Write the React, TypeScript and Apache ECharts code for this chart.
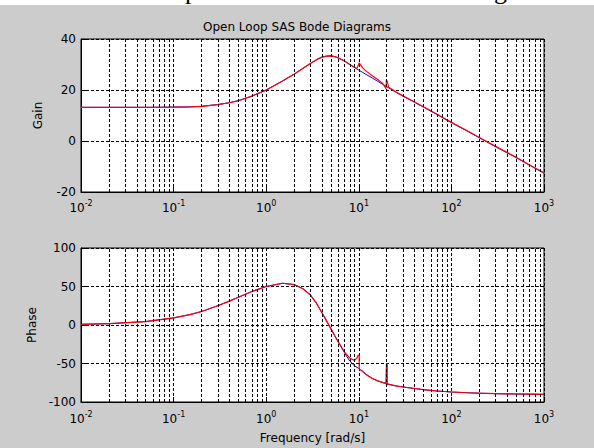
import React, { useEffect, useRef } from "react";
import * as echarts from "echarts";

const blueFreq = [0.01, 0.02, 0.05, 0.1, 0.15, 0.2, 0.3, 0.4, 0.5, 0.7, 1, 1.5, 2, 2.5, 3, 3.5, 4, 4.5, 5, 5.5, 6, 7, 8, 9, 10, 11, 12, 14, 16, 18, 20, 23, 25, 30, 40, 50, 70, 100, 150, 200, 300, 500, 700, 1000];
const blueGain = [13.2, 13.2, 13.2, 13.3, 13.4, 13.6, 14.3, 15.0, 15.8, 17.6, 20.0, 23.5, 26.2, 28.5, 30.4, 31.9, 32.9, 33.3, 33.4, 33.1, 32.6, 31.4, 30.0, 28.8, 27.8, 26.9, 26.1, 24.7, 23.4, 22.3, 21.3, 20.0, 19.2, 17.6, 15.2, 13.3, 10.4, 7.2, 3.8, 1.3, -2.2, -6.5, -9.5, -12.6];
const bluePhase = [0.9, 1.7, 4.5, 9.2, 13.5, 17.5, 25, 31, 36, 43.5, 50, 54.2, 52.5, 47, 39, 28, 16, 5, -5, -14, -22, -36, -47, -53, -56.5, -60, -64, -69.5, -72.5, -74.5, -76, -78, -79, -80.5, -82.5, -84, -85.7, -87, -88, -88.6, -89.2, -89.6, -89.8, -90];

const redFreq = [0.01, 0.02, 0.05, 0.1, 0.15, 0.2, 0.3, 0.4, 0.5, 0.7, 1, 1.5, 2, 2.5, 3, 3.5, 4, 4.5, 5, 5.5, 6, 7, 8, 9, 9.5, 9.9, 10.1, 10.1, 11, 12, 14, 16, 18, 19, 19.6, 19.9, 20.3, 20.3, 21, 23, 25, 30, 40, 50, 70, 100, 150, 200, 300, 500, 700, 1000];
const redGain = [13.2, 13.2, 13.2, 13.3, 13.4, 13.6, 14.3, 15.0, 15.8, 17.6, 20.0, 23.5, 26.2, 28.5, 30.4, 31.9, 32.9, 33.3, 33.4, 33.1, 32.6, 31.4, 30.0, 28.9, 28.4, 29.8, 30.7, 30.7, 28.7, 27.4, 25.6, 24.1, 22.7, 21.5, 20.5, 24.0, 23.2, 23.2, 21.1, 20.2, 19.3, 17.7, 15.3, 13.4, 10.5, 7.3, 3.9, 1.4, -2.1, -6.4, -9.4, -12.5];
const redPhase = [0.9, 1.7, 4.5, 9.2, 13.5, 17.5, 25, 31, 36, 43.5, 50, 54.2, 52.5, 47, 39, 28, 16, 5, -5, -14, -22, -35, -43, -46, -43, -39, -40, -57, -60.5, -64.5, -69.5, -72.5, -74.5, -75.5, -76.5, -50, -52, -77, -77.3, -78, -79, -80.5, -82.5, -84, -85.7, -87, -88, -88.6, -89.2, -89.6, -89.8, -90];

const decades = [0.01, 0.1, 1, 10, 100];
const minorMultipliers = [2, 3, 4, 5, 6, 7, 8, 9];

const FONT = "DejaVu Sans";

export default function App() {
  const ref = useRef<HTMLDivElement>(null);
  useEffect(() => {
    if (!ref.current) return;
    const chart = echarts.init(ref.current, undefined, { renderer: "svg" });
    const minorVals: number[] = [];
    decades.forEach((d) => minorMultipliers.forEach((m) => minorVals.push(+(d * m).toPrecision(6))));
    const dash = [3, 2];
    const pairs = (xs: number[], ys: number[]) => xs.map((x, i) => [x, ys[i]]);

    const xAxisBase = (gridIndex: number, margin: number) => ({
      type: "log",
      logBase: 10,
      gridIndex,
      min: 0.01,
      max: 1000,
      splitNumber: 5,
      axisLine: { show: true, onZero: false, lineStyle: { color: "#000", width: 1 } },
      axisTick: { show: true, inside: true, length: 5, lineStyle: { color: "#000" } },
      minorTick: { show: false },
      splitLine: { show: true, lineStyle: { color: "#000", width: 1, type: dash } },
      axisLabel: {
        margin,
        formatter: (v: number) => `{b|10}{sup|${Math.round(Math.log10(v))}}`,
        rich: {
          b: { fontSize: 12, lineHeight: 18, fontFamily: FONT, color: "#000" },
          sup: { fontSize: 8, lineHeight: 10, verticalAlign: "top", fontFamily: FONT, color: "#000" },
        },
      },
    });

    const yAxisBase = (gridIndex: number, min: number, max: number, interval: number, name: string, nameGap: number) => ({
      type: "value",
      gridIndex,
      min,
      max,
      interval,
      name,
      nameLocation: "middle",
      nameGap,
      nameTextStyle: { fontFamily: FONT, fontSize: 12, color: "#000" },
      axisLine: { show: true, onZero: false, lineStyle: { color: "#000", width: 1 } },
      axisTick: { show: true, inside: true, length: 5, lineStyle: { color: "#000" } },
      splitLine: { show: true, lineStyle: { color: "#000", width: 1, type: dash } },
      axisLabel: { margin: 5, fontFamily: FONT, fontSize: 12, color: "#000" },
    });

    const minorSeries = (idx: number) => ({
      type: "line",
      xAxisIndex: idx,
      yAxisIndex: idx,
      data: [],
      silent: true,
      markLine: {
        silent: true,
        symbol: ["none", "none"],
        label: { show: false },
        lineStyle: { color: "#000", width: 1, type: dash },
        emphasis: { disabled: true },
        data: minorVals.map((v) => ({ xAxis: v })),
      },
    });

    const lineSeries = (idx: number, xs: number[], ys: number[], color: string, width: number) => ({
      type: "line",
      xAxisIndex: idx,
      yAxisIndex: idx,
      data: pairs(xs, ys),
      showSymbol: false,
      symbol: "none",
      silent: true,
      lineStyle: { color, width },
    });

    chart.setOption({
      animation: false,
      backgroundColor: "#cccccc",
      textStyle: { fontFamily: FONT },
      title: {
        text: "Open Loop SAS Bode Diagrams",
        left: "center",
        top: 16,
        textStyle: { fontFamily: FONT, fontSize: 12, fontWeight: "normal", color: "#000" },
      },
      graphic: [
        { type: "rect", shape: { x: 0, y: 0, width: 594, height: 5 }, style: { fill: "#ffffff" } },
        { type: "text", x: 185, y: -10, style: { text: "p", fontFamily: "Liberation Serif", fontSize: 26, fill: "#000", verticalAlign: "middle" } },
        { type: "text", x: 494, y: -10, style: { text: "g", fontFamily: "Liberation Serif", fontSize: 26, fill: "#000", verticalAlign: "middle" } },
      ],
      grid: [
        { left: 81, top: 39, width: 463, height: 153, show: true, backgroundColor: "#ffffff", borderColor: "#000", borderWidth: 1 },
        { left: 81, top: 248, width: 463, height: 154, show: true, backgroundColor: "#ffffff", borderColor: "#000", borderWidth: 1 },
      ],
      xAxis: [
        xAxisBase(0, 7),
        { ...xAxisBase(1, 8), name: "Frequency [rad/s]", nameLocation: "middle", nameGap: 30, nameTextStyle: { fontFamily: FONT, fontSize: 12, color: "#000" } },
      ],
      yAxis: [
        yAxisBase(0, -20, 40, 20, "Gain", 37),
        yAxisBase(1, -100, 100, 50, "Phase", 42),
      ],
      series: [
        minorSeries(0),
        minorSeries(1),
        lineSeries(0, blueFreq, blueGain, "#0000ff", 1),
        lineSeries(0, redFreq, redGain, "#ff0000", 1.2),
        lineSeries(1, blueFreq, bluePhase, "#0000ff", 1),
        lineSeries(1, redFreq, redPhase, "#ff0000", 1.2),
      ],
    });
    return () => chart.dispose();
  }, []);
  return <div ref={ref} style={{ position: "absolute", left: 0, top: 0, width: 594, height: 448 }} />;
}
